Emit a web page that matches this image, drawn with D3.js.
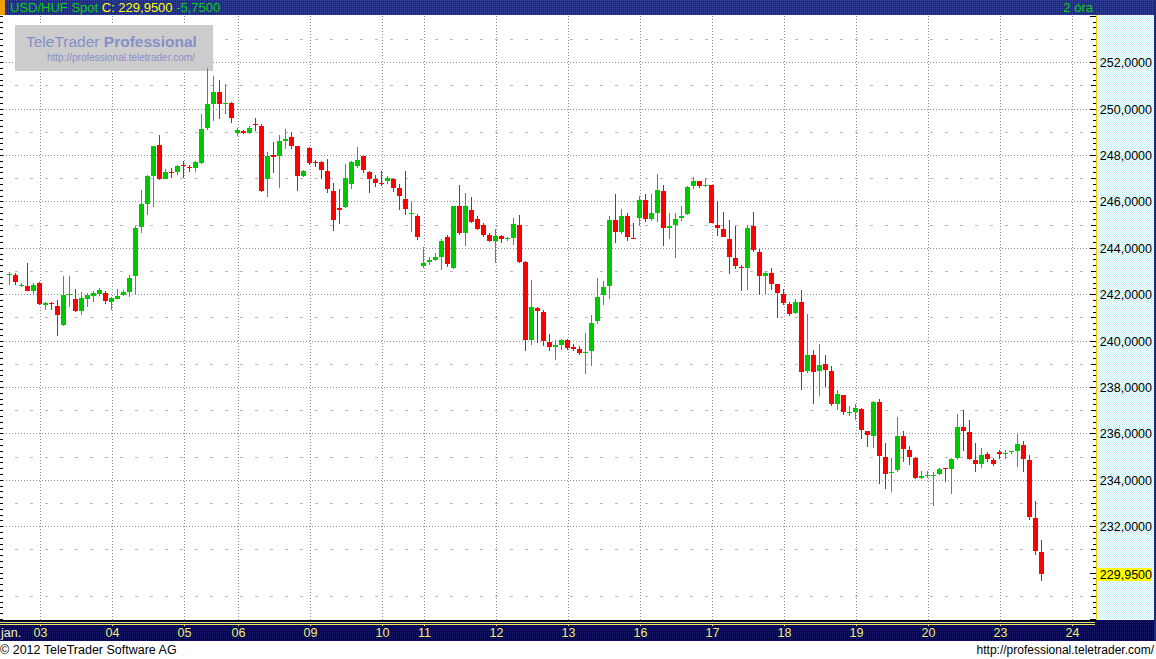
<!DOCTYPE html>
<html><head><meta charset="utf-8">
<script src="https://cdn.jsdelivr.net/npm/d3@7/dist/d3.min.js"></script>
<style>
body{margin:0;background:#fff;overflow:hidden}
svg{display:block;font-family:"Liberation Sans",Arial,sans-serif}
</style>
</head><body>
<svg id="chart" width="1156" height="659"></svg>
<script>
// ---- data: 2-hour candles, USD/HUF spot, Jan 2012 ----
const openVals = [242.88,242.86,242.40,242.39,242.18,242.51,241.57,241.65,241.52,240.70,241.98,241.82,241.28,241.82,241.95,242.05,242.08,241.70,241.82,241.97,242.10,242.82,244.90,245.93,247.10,248.46,246.97,247.30,247.27,247.57,247.51,247.44,247.69,249.17,250.24,250.75,250.25,250.27,248.99,249.04,248.99,249.37,249.28,246.97,248.03,247.96,248.61,248.81,248.42,247.11,248.32,247.71,247.71,247.32,246.46,245.73,245.76,246.78,247.55,247.97,247.28,246.98,246.81,246.91,246.98,246.59,246.12,245.49,245.39,243.24,243.42,243.50,243.63,244.48,243.16,245.82,244.67,245.64,245.26,245.00,244.57,244.32,244.52,244.42,244.45,245.00,243.40,240.04,241.42,241.25,239.95,239.75,239.84,240.04,239.74,239.65,239.52,239.56,240.86,241.98,242.36,245.24,244.69,245.41,244.46,245.30,246.10,245.25,245.51,246.49,244.86,244.99,245.30,245.47,246.68,246.88,246.69,246.72,245.02,244.85,244.42,243.60,243.21,243.14,244.94,243.86,242.80,242.95,242.48,242.05,241.62,241.20,241.70,238.70,239.41,238.70,239.03,238.72,237.27,237.69,236.93,236.93,237.09,236.14,235.89,237.39,235.02,234.30,234.43,235.92,235.32,234.97,234.08,234.21,234.21,234.26,234.51,234.47,234.95,236.31,236.09,234.89,234.69,235.15,234.89,235.23,235.12,235.22,235.25,235.53,234.89,232.39,230.92];
const highVals = [242.99,242.92,242.51,243.38,242.51,242.56,241.68,241.68,241.78,242.82,242.82,242.26,242.13,242.08,242.17,242.30,242.17,241.91,242.26,242.21,242.86,244.94,246.52,247.14,248.42,248.89,247.43,247.47,247.60,247.77,247.60,247.77,249.80,251.78,251.44,251.26,251.09,250.32,249.17,249.08,249.28,249.60,249.37,248.16,248.59,248.89,249.15,249.02,248.42,247.37,248.36,247.80,247.76,247.84,246.81,246.55,247.63,247.76,248.36,247.97,247.32,247.15,247.32,247.11,247.02,246.76,247.32,246.03,245.47,244.05,243.63,243.79,244.39,244.57,245.82,246.72,246.38,246.20,245.39,245.08,244.65,244.82,244.57,244.48,245.30,245.43,243.45,242.63,241.46,241.33,240.30,240.04,240.08,240.08,239.87,239.80,240.37,241.14,242.70,242.57,245.41,246.36,245.71,245.54,245.11,246.27,246.32,246.36,247.22,246.75,245.50,245.50,245.84,246.70,247.09,246.92,247.05,246.75,246.06,245.58,245.24,244.94,243.26,245.02,245.58,243.95,243.04,243.13,242.48,242.26,241.70,241.83,242.22,241.18,239.63,239.89,239.41,238.94,237.91,237.69,237.22,237.30,237.13,236.14,237.43,237.52,235.59,234.97,236.74,236.14,235.49,235.02,234.41,234.41,234.37,234.54,234.54,234.97,236.87,237.04,236.61,235.62,235.41,235.23,234.97,235.32,235.32,235.28,236.01,235.71,235.10,233.09,231.44];
const lowVals = [242.43,242.40,242.34,242.18,242.04,241.57,241.32,241.36,240.23,240.63,241.45,241.24,241.11,241.49,241.67,241.93,241.62,241.32,241.80,241.93,241.88,242.04,244.64,245.42,245.80,246.93,246.97,247.05,247.14,247.05,247.31,247.31,247.64,249.08,249.50,249.58,249.80,249.38,248.86,248.91,248.91,249.04,246.41,246.19,247.23,246.58,248.26,248.26,246.45,247.08,247.60,247.51,246.98,246.39,244.75,245.05,245.72,246.56,247.47,247.25,246.39,246.65,246.69,246.78,246.43,245.66,245.44,244.71,244.36,243.16,243.29,243.46,243.07,243.20,243.11,244.57,244.11,245.10,244.80,244.49,244.28,243.37,244.24,244.32,244.15,243.36,239.58,239.84,239.93,239.80,239.58,239.19,239.62,239.62,239.58,239.41,238.57,238.92,240.73,241.55,241.80,244.22,244.61,244.30,244.39,244.95,245.12,245.17,245.12,244.09,244.39,243.57,245.17,245.43,246.55,246.59,246.63,245.08,244.52,244.48,242.88,243.10,242.15,242.19,243.83,241.98,242.01,242.19,240.99,241.55,241.07,241.16,237.88,238.61,237.27,237.62,238.01,237.19,237.01,236.80,236.76,236.58,235.76,235.42,235.38,233.82,233.61,233.48,234.34,234.77,234.64,234.04,234.05,234.08,232.88,234.21,233.91,233.39,234.86,235.25,234.86,234.34,234.51,234.77,234.61,234.90,234.90,235.12,234.56,234.34,232.27,230.76,229.64];
const closeVals = [242.90,242.53,242.42,242.18,242.43,241.62,241.65,241.63,241.11,241.98,242.04,241.28,241.87,242.00,242.08,242.21,241.71,241.87,241.95,242.13,242.73,244.89,245.92,247.10,248.42,246.97,247.30,247.23,247.56,247.55,247.44,247.73,249.15,250.23,250.75,250.24,250.27,249.60,249.12,248.97,249.20,249.30,246.49,247.99,247.92,248.64,248.72,248.39,247.10,247.32,247.67,247.68,247.37,246.55,245.23,245.64,247.02,247.71,247.80,247.38,246.99,246.82,246.78,247.02,246.61,246.26,245.70,245.51,244.49,243.36,243.50,243.62,244.31,243.33,245.82,244.65,245.82,245.14,244.84,244.58,244.32,244.52,244.41,244.45,245.04,243.40,240.04,241.46,241.30,240.00,239.75,239.82,240.04,239.71,239.67,239.49,239.55,240.78,241.92,242.35,245.24,244.69,245.41,244.48,244.43,246.10,245.25,245.50,246.53,244.86,244.98,245.28,245.41,246.66,246.88,246.68,246.72,245.08,244.86,244.48,243.61,243.23,243.14,244.89,243.92,242.80,242.95,242.45,242.06,241.63,241.16,241.70,238.65,239.41,238.65,238.98,238.74,237.27,237.73,236.93,236.96,237.13,236.15,235.94,237.39,235.03,234.26,234.37,235.92,235.33,234.99,234.08,234.20,234.24,234.24,234.50,234.49,234.93,236.31,236.11,234.93,234.69,235.10,234.90,234.69,235.12,235.19,235.25,235.58,234.90,232.40,230.94,229.95];

const dayLabels = ["03","04","05","06","09","10","11","12","13","16","17","18","19","20","23","24"];
const dayStartIndex = [5,17,29,38,50,62,69,81,93,105,117,129,141,153,165,177];
const monthLabel = "jan.";
const yTickValues = [232,234,236,238,240,242,244,246,248,250,252];
const yMinorValues = [229,231,233,235,237,239,241,243,245,247,249,251,253];
const lastPrice = 229.95;
const headerTitle = "USD/HUF Spot";
const headerClose = "C: 229,9500";
const headerChange = "-5,7500";
const headerPeriod = "2 óra";

// ---- layout ----
const W = 1156, H = 659;
const plotTop = 16, plotBottom = 620, plotRight = 1094;
const svg = d3.select("#chart");
const fmt = v => d3.format(".4f")(v).replace(".", ",");

const x = d3.scaleLinear().domain([0, 177]).range([9, 9 + 6 * 177]);
const y = d3.scaleLinear().domain([228, 254]).range([619.5, 16.3]);
const py = v => Math.floor(y(v)) + 0.5;

// background
svg.append("rect").attr("width", W).attr("height", H).attr("fill", "#fff");

// defs: dithered patterns
const defs = svg.append("defs");
const hp = defs.append("pattern").attr("id","hdr").attr("width",2).attr("height",2).attr("patternUnits","userSpaceOnUse");
hp.append("rect").attr("width",2).attr("height",2).attr("fill","#1d2b7a");
hp.append("rect").attr("width",1).attr("height",1).attr("fill","#3848a0");
const bp = defs.append("pattern").attr("id","bar").attr("width",2).attr("height",2).attr("patternUnits","userSpaceOnUse");
bp.append("rect").attr("width",2).attr("height",2).attr("fill","#06064a");
bp.append("rect").attr("width",1).attr("height",1).attr("fill","#1a1a70");
const cp = defs.append("pattern").attr("id","cy").attr("width",2).attr("height",2).attr("patternUnits","userSpaceOnUse");
cp.append("rect").attr("width",2).attr("height",2).attr("fill","#ffffff");
cp.append("rect").attr("width",1).attr("height",1).attr("fill","#c4f4f4");
cp.append("rect").attr("x",1).attr("y",1).attr("width",1).attr("height",1).attr("fill","#c4f4f4");

// grid: minor dashed horizontals
const grid = svg.append("g");
grid.selectAll("line.minor").data(yMinorValues.filter(v => y(v) > plotTop && y(v) < plotBottom)).join("line")
  .attr("x1", 0).attr("x2", plotRight).attr("y1", py).attr("y2", py)
  .attr("stroke", "#b8b8b8").attr("stroke-dasharray", "3,12").attr("shape-rendering","crispEdges");
// major dotted horizontals
grid.selectAll("line.major").data(yTickValues).join("line")
  .attr("x1", 0).attr("x2", plotRight).attr("y1", py).attr("y2", py)
  .attr("stroke", "#8c8c8c").attr("stroke-dasharray", "1,2").attr("shape-rendering","crispEdges");
// vertical day lines
grid.selectAll("line.v").data(dayStartIndex).join("line")
  .attr("x1", d => x(d) + 1.5).attr("x2", d => x(d) + 1.5)
  .attr("y1", plotTop).attr("y2", plotBottom)
  .attr("stroke", "#8c8c8c").attr("stroke-dasharray", "1,2").attr("shape-rendering","crispEdges");

// logo watermark
const logo = svg.append("g");
logo.append("rect").attr("x", 15).attr("y", 25).attr("width", 198).attr("height", 46).attr("fill", "#cccccc");
const lt = logo.append("text").attr("x", 26).attr("y", 47).attr("font-size", 15.5).attr("fill", "#8590c8");
lt.append("tspan").text("TeleTrader ");
lt.append("tspan").attr("font-weight", "bold").text("Professional");
logo.append("text").attr("x", 47).attr("y", 61).attr("font-size", 10).attr("fill", "#8590c8")
  .text("http://professional.teletrader.com/");

// candles
const data = openVals.map((o, i) => ({i, o, h: highVals[i], l: lowVals[i], c: closeVals[i]}));
const cg = svg.append("g").attr("shape-rendering", "crispEdges");
const col = d => d.c >= d.o ? "#00c800" : "#ff0000";
cg.selectAll("rect.w").data(data).join("rect")
  .attr("x", d => x(d.i)).attr("width", 1)
  .attr("y", d => Math.round(y(d.h)))
  .attr("height", d => Math.max(1, Math.round(y(d.l)) - Math.round(y(d.h))))
  .attr("fill", col);
cg.selectAll("rect.b").data(data).join("rect")
  .attr("x", d => x(d.i) - 2).attr("width", 5)
  .attr("y", d => Math.round(y(Math.max(d.o, d.c))))
  .attr("height", d => Math.max(1, Math.round(y(Math.min(d.o, d.c))) - Math.round(y(Math.max(d.o, d.c)))))
  .attr("fill", col);

// left-edge ticks
const tickVals = d3.range(228, 254.01, 0.25);
svg.append("g").selectAll("line").data(tickVals).join("line")
  .attr("x1", 0).attr("x2", 3).attr("y1", py).attr("y2", py)
  .attr("stroke", "#000").attr("shape-rendering","crispEdges");

// header bar
svg.append("rect").attr("x", 0).attr("y", 0).attr("width", W).attr("height", 15).attr("fill", "url(#hdr)");
svg.append("rect").attr("x", 0).attr("y", 0).attr("width", 5).attr("height", 15).attr("fill", "#f0a000");
const ht = svg.append("text").attr("x", 10).attr("y", 12).attr("font-size", 13);
ht.append("tspan").attr("fill", "#00d000").text(headerTitle + " ");
ht.append("tspan").attr("fill", "#ffff00").text(headerClose + " ");
ht.append("tspan").attr("fill", "#00d000").text(headerChange);
svg.append("text").attr("x", 1093).attr("y", 12).attr("font-size", 13).attr("text-anchor", "end")
  .attr("fill", "#00d000").text(headerPeriod);

// right axis panel
svg.append("rect").attr("x", 1096).attr("y", 15).attr("width", 58).attr("height", 606).attr("fill", "url(#cy)");
svg.append("line").attr("x1", 1096.5).attr("x2", 1096.5).attr("y1", 15).attr("y2", 621)
  .attr("stroke", "#f0c800");
svg.append("rect").attr("x", 1154).attr("y", 0).attr("width", 2).attr("height", 641).attr("fill", "#1d2b7a");
// axis ticks
svg.append("g").selectAll("line").data(tickVals).join("line")
  .attr("x1", d => (Math.abs(d % 2) < 1e-6 ? 1090 : (Math.abs(d % 1) < 1e-6 ? 1091 : 1093)))
  .attr("x2", 1096).attr("y1", py).attr("y2", py)
  .attr("stroke", "#000").attr("shape-rendering","crispEdges");
// axis labels
svg.append("g").selectAll("text").data(yTickValues).join("text")
  .attr("x", 1152).attr("y", d => y(d) + 4.5).attr("text-anchor", "end")
  .attr("font-size", 12.5).attr("fill", "#000").text(fmt);
// last price tag
svg.append("rect").attr("x", 1097).attr("y", Math.round(y(lastPrice)) - 6).attr("width", 55).attr("height", 13)
  .attr("fill", "#ffff00");
svg.append("text").attr("x", 1152).attr("y", y(lastPrice) + 4.5).attr("text-anchor", "end")
  .attr("font-size", 12.5).attr("fill", "#000").text(fmt(lastPrice));

// bottom x-axis bar
svg.append("rect").attr("x", 0).attr("y", 620).attr("width", 1154).attr("height", 21).attr("fill", "url(#bar)");
svg.append("rect").attr("x", 0).attr("y", 620).attr("width", 1095).attr("height", 1).attr("fill", "#000");
svg.append("rect").attr("x", 0).attr("y", 622).attr("width", 1095).attr("height", 1).attr("fill", "#f0e860");
svg.append("rect").attr("x", 0).attr("y", 624).attr("width", 1095).attr("height", 1).attr("fill", "#f0e860");
svg.append("g").selectAll("rect").data(dayStartIndex).join("rect")
  .attr("x", d => x(d) + 1).attr("y", 624).attr("width", 1).attr("height", 2).attr("fill", "#f0e860");
svg.append("text").attr("x", 1).attr("y", 637).attr("font-size", 12.5).attr("fill", "#f4f4c0").text(monthLabel);
svg.append("g").selectAll("text").data(dayLabels).join("text")
  .attr("x", (d, k) => x(dayStartIndex[k]) + 1.5).attr("y", 637).attr("text-anchor", "middle")
  .attr("font-size", 12.5).attr("fill", "#f0f070").text(d => d);

// footer
svg.append("text").attr("x", 0).attr("y", 654).attr("font-size", 12.5).attr("fill", "#000")
  .text("© 2012 TeleTrader Software AG");
svg.append("text").attr("x", 1154).attr("y", 654).attr("font-size", 12).attr("text-anchor", "end")
  .attr("fill", "#000").text("http://professional.teletrader.com/");
</script>
</body></html>
